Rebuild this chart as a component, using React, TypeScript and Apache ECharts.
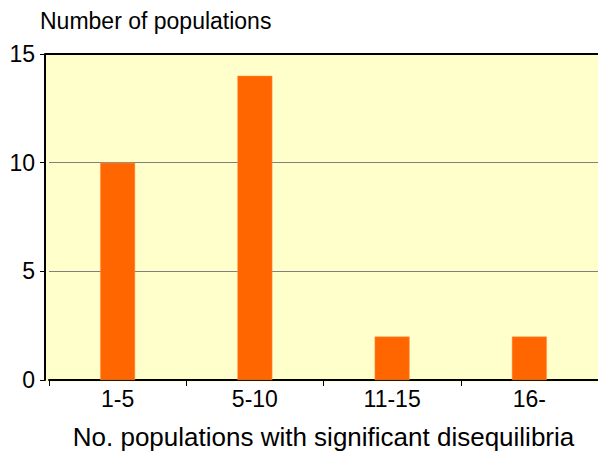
import React, { useEffect, useRef } from "react";
import * as echarts from "echarts";

const categories = ["1-5", "5-10", "11-15", "16-"];
const counts = [10, 14, 2, 2];
const yTicks = [0, 5, 10, 15];
const yTitle = "Number of populations";
const xTitle = "No. populations with significant disequilibria";

export default function App() {
  const ref = useRef<HTMLDivElement>(null);
  useEffect(() => {
    if (!ref.current) return;
    const chart = echarts.init(ref.current, null, { renderer: "svg" });
    const font = "Liberation Sans, Arial, sans-serif";
    chart.setOption({
      animation: false,
      title: {
        text: yTitle,
        left: 35,
        top: 4,
        textStyle: { fontFamily: font, fontSize: 23, fontWeight: "normal", color: "#000" },
      },
      graphic: [
        {
          type: "rect",
          z: -10,
          shape: { x: 45, y: 54, width: 560, height: 328 },
          style: { fill: "#FFFFCC" },
          silent: true,
        },
        {
          type: "line",
          z: 10,
          shape: { x1: 45, y1: 54, x2: 600, y2: 54 },
          style: { stroke: "#000", lineWidth: 2 },
        },
      ],
      grid: {
        left: 49,
        right: -3,
        top: 54,
        bottom: 73,
        show: false,
      },
      xAxis: {
        type: "category",
        data: categories,
        name: xTitle,
        nameLocation: "middle",
        nameGap: 44,
        nameTextStyle: { fontFamily: font, fontSize: 26, color: "#000" },
        axisLine: { lineStyle: { color: "#000", width: 2 } },
        axisTick: { show: true, length: 6, lineStyle: { color: "#000", width: 1 } },
        axisLabel: { fontFamily: font, fontSize: 23, color: "#000", margin: 7 },
      },
      yAxis: {
        type: "value",
        min: 0,
        max: 15,
        interval: 5,
        offset: 4,
        axisLine: { show: true, lineStyle: { color: "#000", width: 2 } },
        axisTick: { show: true, length: 5, lineStyle: { color: "#000", width: 1 } },
        axisLabel: {
          fontFamily: font,
          fontSize: 23,
          color: "#000",
          margin: 10,
          formatter: (v: number) => (yTicks.includes(v) ? String(v) : ""),
        },
        splitLine: { show: true, lineStyle: { color: "#808080", width: 1 } },
      },
      series: [
        {
          type: "bar",
          data: counts,
          barWidth: 35,
          itemStyle: { color: "#FF6600", borderColor: "#FF9955", borderWidth: 0.5 },
        },
      ],
    });
    return () => chart.dispose();
  }, []);
  return <div ref={ref} style={{ width: 598, height: 455, position: "absolute", left: 0, top: 0 }} />;
}
